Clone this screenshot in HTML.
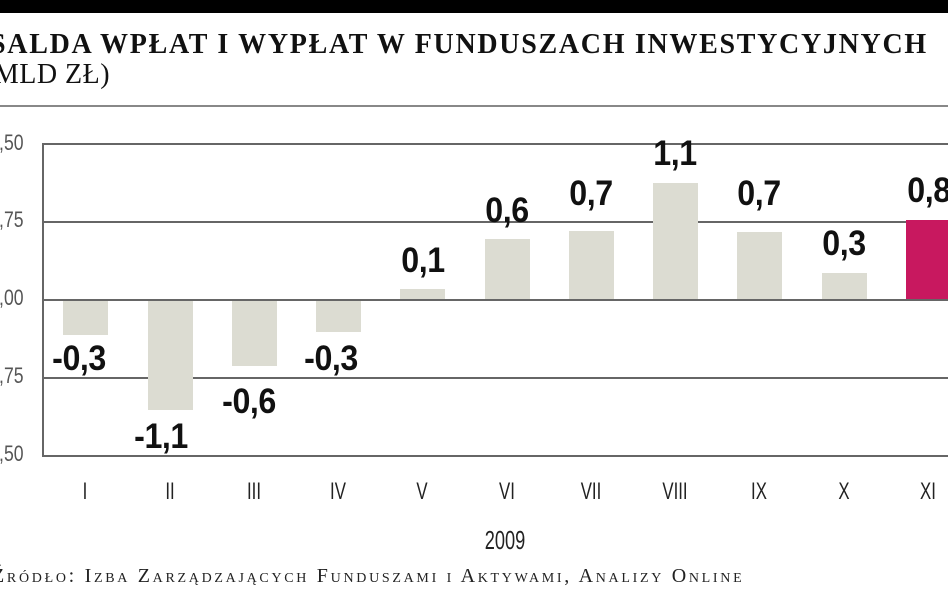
<!DOCTYPE html>
<html><head><meta charset="utf-8"><style>
body{margin:0;width:948px;height:593px;overflow:hidden;background:#fff;position:relative;font-family:"Liberation Sans",sans-serif}
div{position:absolute}
.t{font-family:"Liberation Serif",serif;font-weight:bold;color:#111}
.v{font-family:"Liberation Sans Narrow","Liberation Sans",sans-serif;font-weight:bold;font-size:35px;color:#111;width:90px;text-align:center;transform:scaleX(0.92);letter-spacing:-0.5px}
.x{font-family:"Liberation Sans Narrow","Liberation Sans",sans-serif;font-size:24px;color:#222;width:60px;text-align:center;top:478px;transform:scaleX(0.7)}
.y{font-family:"Liberation Sans Narrow","Liberation Sans",sans-serif;font-size:22px;color:#555;left:-4px;transform:scaleX(0.8)}
.g{left:43px;right:0;height:2px;background:#666}
.b{background:#dcdcd2;width:45px}
</style></head><body>
<div style="left:0;top:0;width:948px;height:13px;background:#000"></div>
<div class="t" style="left:-10px;top:29px;font-size:28px;letter-spacing:1.7px;white-space:nowrap">SALDA WPŁAT I WYPŁAT W FUNDUSZACH INWESTYCYJNYCH</div>
<div class="t" style="left:-16px;top:59px;font-size:28px;font-weight:normal;white-space:nowrap;letter-spacing:0.5px">(MLD ZŁ)</div>
<div style="left:0;right:0;top:105px;height:2px;background:#888"></div>
<div class="g" style="top:143px"></div>
<div class="g" style="top:221px"></div>
<div class="g" style="top:299px"></div>
<div class="g" style="top:377px"></div>
<div class="g" style="top:455px"></div>
<div style="left:42px;top:143px;width:2px;height:314px;background:#666"></div>
<div class="y" style="top:130px">,50</div>
<div class="y" style="top:207px">,75</div>
<div class="y" style="top:285px">,00</div>
<div class="y" style="top:363px">,75</div>
<div class="y" style="top:441px">,50</div>
<div class="b" style="left:63px;top:301px;height:34px"></div>
<div class="b" style="left:148px;top:301px;height:109px"></div>
<div class="b" style="left:232px;top:301px;height:65px"></div>
<div class="b" style="left:316px;top:301px;height:31px"></div>
<div class="b" style="left:400px;top:289px;height:10px"></div>
<div class="b" style="left:485px;top:239px;height:60px"></div>
<div class="b" style="left:569px;top:231px;height:68px"></div>
<div class="b" style="left:653px;top:183px;height:116px"></div>
<div class="b" style="left:737px;top:232px;height:67px"></div>
<div class="b" style="left:822px;top:273px;height:26px"></div>
<div class="b" style="left:906px;top:220px;height:79px;background:#c8185f"></div>
<div class="v" style="left:34px;top:339px">-0,3</div>
<div class="v" style="left:116px;top:417px">-1,1</div>
<div class="v" style="left:204px;top:382px">-0,6</div>
<div class="v" style="left:286px;top:339px">-0,3</div>
<div class="v" style="left:378px;top:241px">0,1</div>
<div class="v" style="left:462px;top:191px">0,6</div>
<div class="v" style="left:546px;top:174px">0,7</div>
<div class="v" style="left:630px;top:134px">1,1</div>
<div class="v" style="left:714px;top:174px">0,7</div>
<div class="v" style="left:799px;top:224px">0,3</div>
<div class="v" style="left:884px;top:171px">0,8</div>
<div class="x" style="left:55px">I</div>
<div class="x" style="left:140px">II</div>
<div class="x" style="left:224px">III</div>
<div class="x" style="left:308px">IV</div>
<div class="x" style="left:392px">V</div>
<div class="x" style="left:477px">VI</div>
<div class="x" style="left:561px">VII</div>
<div class="x" style="left:645px">VIII</div>
<div class="x" style="left:729px">IX</div>
<div class="x" style="left:814px">X</div>
<div class="x" style="left:898px">XI</div>
<div class="x" style="left:465px;top:525px;width:80px;font-size:26px">2009</div>
<div style="left:-8px;top:565px;font-family:'Liberation Serif',serif;font-size:20px;color:#222;font-variant:small-caps;white-space:nowrap;letter-spacing:2.7px">Źródło: Izba Zarządzających Funduszami i Aktywami, Analizy Online</div>
</body></html>
